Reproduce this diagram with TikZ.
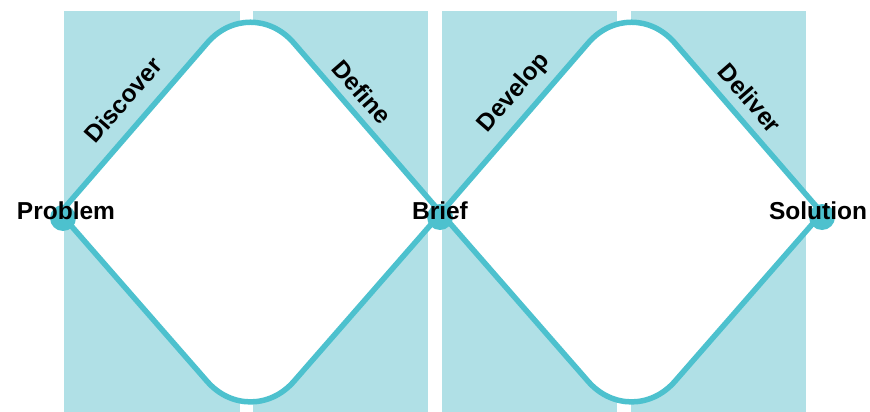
\documentclass[tikz,border=0pt]{standalone}
\usepackage{fontspec}
\setmainfont{Liberation Sans}
\usetikzlibrary{calc}

\definecolor{bandblue}{HTML}{B0E0E6}
\definecolor{linkblue}{HTML}{4DC1CE}

\begin{document}
\begin{tikzpicture}[x=1pt, y=-1pt,
  band/.style={fill=bandblue, draw=none},
  arm/.style={draw=linkblue, line width=5.5pt, fill=white, rounded corners=66pt},
  dot/.style={circle, fill=linkblue, minimum size=26pt, inner sep=0pt},
  stage/.style={font=\fontsize{24.5}{28}\selectfont\bfseries, inner sep=0pt},
  phase/.style={font=\fontsize{24.5}{28}\selectfont\bfseries, inner sep=0pt}
]
\useasboundingbox (0,0) rectangle (870,412);

% background bands
\fill[band] (64,11) rectangle (240,412);
\fill[band] (253,11) rectangle (428,412);
\fill[band] (442,11) rectangle (617,412);
\fill[band] (631,11) rectangle (806,412);

% diamond corners
\coordinate (problem) at (60,213);
\coordinate (brief) at (441,213);
\coordinate (solution) at (822,213);
\coordinate (top1) at (250.5,-7);
\coordinate (bot1) at (250.5,431);
\coordinate (top2) at (631.5,-7);
\coordinate (bot2) at (631.5,431);

% the two diamonds
\path[arm] (problem) -- (top1) -- (brief);
\path[arm] (problem) -- (bot1) -- (brief);
\path[arm] (brief) -- (top2) -- (solution);
\path[arm] (brief) -- (bot2) -- (solution);

\node[dot] (problemdot) at ($(problem)+(3,5)$) {};
\node[dot] (briefdot) at ($(brief)+(-1,4)$) {};
\node[dot] (solutiondot) at ($(solution)+(0,4)$) {};

\node[stage] (problemlbl) at (66,211) {Problem};
\node[stage] (brieflbl) at (440,211) {Brief};
\node[stage] (solutionlbl) at (818,211) {Solution};

\node[phase, rotate=49] (discover) at (123,100) {Discover};
\node[phase, rotate=-49] (define) at (362,92) {Define};
\node[phase, rotate=49] (develop) at (514,93) {Develop};
\node[phase, rotate=-49] (deliver) at (750,98) {Deliver};
\end{tikzpicture}
\end{document}
